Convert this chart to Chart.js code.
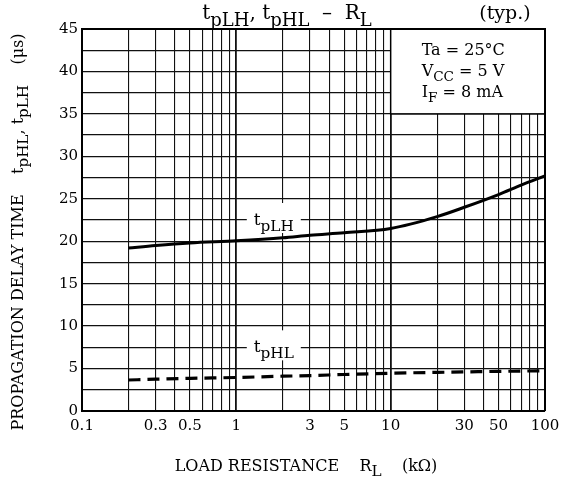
<!DOCTYPE html>
<html>
<head>
<meta charset="utf-8">
<script src="https://cdn.jsdelivr.net/npm/chart.js@4/dist/chart.umd.min.js"></script>
<style>
  html, body { margin: 0; padding: 0; background: #fff; }
  canvas { display: block; }
</style>
</head>
<body>
<canvas id="chart" width="562" height="480"></canvas>
<script>
// load resistance (kOhm) and propagation delay (us)
const loadR = [0.2, 0.3, 0.5, 1, 2, 3, 5, 10, 20, 30, 50, 70, 100];
const tpLH = [19.2, 19.5, 19.8, 20.05, 20.4, 20.7, 21.0, 21.5, 22.9, 24.0, 25.5, 26.6, 27.7];
const tpHL = [3.65, 3.75, 3.85, 3.95, 4.1, 4.17, 4.3, 4.45, 4.55, 4.6, 4.67, 4.7, 4.75];

const xTickLabels = [0.1, 0.3, 0.5, 1, 3, 5, 10, 30, 50, 100];
const yTickLabels = [0, 5, 10, 15, 20, 25, 30, 35, 40, 45];

const SERIF = '"DejaVu Serif", "Liberation Serif", serif';

// grid lines on the log axis: 1..9 of every decade
const xGrid = [];
[0.1, 1, 10].forEach(d => {
  for (let m = 1; m < 10; m++) xGrid.push(+(m * d).toFixed(2));
});
xGrid.push(100);

// draw text made of [text, isSub] pieces
function drawRich(ctx, parts, x, y, size, align, sub) {
  sub = sub || 0.85;
  const fontFor = s => (s ? size * sub : size) + 'px ' + SERIF;
  let w = 0;
  parts.forEach(([t, s]) => { ctx.font = fontFor(s); w += ctx.measureText(t).width; });
  let cx = align === 'center' ? x - w / 2 : x;
  ctx.textAlign = 'left';
  ctx.textBaseline = 'alphabetic';
  ctx.fillStyle = '#000';
  parts.forEach(([t, s]) => {
    ctx.font = fontFor(s);
    ctx.fillText(t, cx, s ? y + size * 0.33 : y);
    cx += ctx.measureText(t).width;
  });
}

const decorations = {
  id: 'decorations',
  beforeDatasetsDraw(chart) {
    const { ctx, scales: { x, y } } = chart;
    ctx.save();
    // condition box, top right
    const bx = x.getPixelForValue(10), by = y.getPixelForValue(45);
    const bw = x.getPixelForValue(100) - bx, bh = y.getPixelForValue(35) - by;
    ctx.fillStyle = '#fff';
    ctx.fillRect(bx, by, bw, bh);
    ctx.strokeStyle = '#000';
    ctx.lineWidth = 1.5;
    ctx.strokeRect(bx, by, bw, bh);
    drawRich(ctx, [['Ta = 25°C', false]], bx + 31, by + 26, 16);
    drawRich(ctx, [['V', false], ['CC', true], [' = 5 V', false]], bx + 31, by + 47, 16);
    drawRich(ctx, [['I', false], ['F', true], [' = 8 mA', false]], bx + 31, by + 68, 16);

    // curve labels on white patches
    const labels = [
      { parts: [['t', false], ['pLH', true]], v: 22.5 },
      { parts: [['t', false], ['pHL', true]], v: 7.5 }
    ];
    labels.forEach(l => {
      const cx = x.getPixelForValue(2) - 9;
      const cy = y.getPixelForValue(l.v);
      ctx.fillStyle = '#fff';
      ctx.fillRect(cx - 27, cy - 17, 54, 30);
      drawRich(ctx, l.parts, cx, cy + 5, 17, 'center', 0.9);
    });

    // top and right frame
    const a = chart.chartArea;
    ctx.strokeStyle = '#000';
    ctx.lineWidth = 2;
    ctx.beginPath();
    ctx.moveTo(a.left, a.top);
    ctx.lineTo(a.right, a.top);
    ctx.lineTo(a.right, a.bottom);
    ctx.stroke();
    ctx.restore();
  },
  afterDraw(chart) {
    const { ctx } = chart;
    ctx.save();
    // title
    drawRich(ctx, [['t', false], ['pLH', true], [', t', false], ['pHL', true], ['  \u2013  R', false], ['L', true]], 287, 19, 20, 'center', 0.9);
    drawRich(ctx, [['(typ.)', false]], 505, 19, 19, 'center');
    // x axis title
    drawRich(ctx, [['LOAD RESISTANCE    R', false], ['L', true], ['    (k\u03A9)', false]], 306, 471, 16, 'center', 0.95);
    // y axis title
    ctx.translate(23, 232);
    ctx.rotate(-Math.PI / 2);
    drawRich(ctx, [['PROPAGATION DELAY TIME    t', false], ['pHL', true], [', t', false], ['pLH', true], ['    (\u03BCs)', false]], 0, 0, 16, 'center', 0.95);
    ctx.restore();
  }
};

new Chart(document.getElementById('chart'), {
  type: 'line',
  data: {
    labels: loadR,
    datasets: [
      {
        label: 'tpLH',
        data: loadR.map((r, i) => ({ x: r, y: tpLH[i] })),
        borderColor: '#000',
        borderWidth: 3,
        pointRadius: 0,
        cubicInterpolationMode: 'monotone',
        fill: false
      },
      {
        label: 'tpHL',
        data: loadR.map((r, i) => ({ x: r, y: tpHL[i] })),
        borderColor: '#000',
        borderWidth: 3.2,
        borderDash: [12, 7],
        pointRadius: 0,
        cubicInterpolationMode: 'monotone',
        fill: false
      }
    ]
  },
  options: {
    responsive: false,
    animation: false,
    layout: { padding: { left: 0, right: 17, top: 29, bottom: 0 } },
    plugins: {
      legend: { display: false },
      tooltip: { enabled: false }
    },
    scales: {
      x: {
        type: 'logarithmic',
        min: 0.1,
        max: 100,
        afterBuildTicks(scale) {
          scale.ticks = xGrid.map(v => ({ value: v, major: [0.1, 1, 10, 100].includes(v) }));
        },
        afterFit(scale) {
          scale.height = 69;
          scale.paddingLeft = 0;
          scale.paddingRight = 0;
        },
        ticks: {
          autoSkip: false,
          maxRotation: 0,
          padding: 6,
          color: '#000',
          font: { family: SERIF, size: 15 },
          callback: v => xTickLabels.includes(+v.toFixed(2)) ? String(+v.toFixed(2)) : ''
        },
        grid: {
          drawTicks: false,
          color: '#111',
          lineWidth: ctx => (ctx.tick && [1, 10].includes(ctx.tick.value)) ? 1.8 : 1.1
        },
        border: { display: true, color: '#000', width: 2 }
      },
      y: {
        min: 0,
        max: 45,
        afterFit(scale) {
          scale.width = 82;
          scale.paddingTop = 0;
          scale.paddingBottom = 0;
        },
        ticks: {
          stepSize: 2.5,
          autoSkip: false,
          padding: 4,
          color: '#000',
          font: { family: SERIF, size: 15 },
          callback: v => yTickLabels.includes(v) ? String(v) : ''
        },
        grid: {
          drawTicks: false,
          color: '#111',
          lineWidth: 1.3
        },
        border: { display: true, color: '#000', width: 2 }
      }
    }
  },
  plugins: [decorations]
});
</script>
</body>
</html>
